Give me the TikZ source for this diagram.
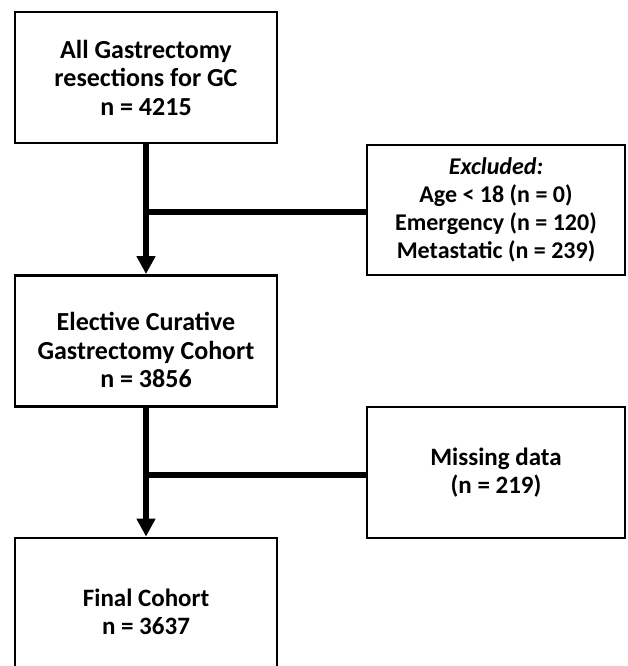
\documentclass[tikz,border=0pt]{standalone}
\usepackage{fontspec}
\setmainfont{Carlito}
\usetikzlibrary{arrows.meta}
\begin{document}
\begin{tikzpicture}[x=1pt,y=-1pt,
  box/.style={draw=black, line width=2.8pt, fill=white, align=center,
    inner sep=0pt, font=\fontsize{25}{28.5}\selectfont\bfseries},
  bigbox/.style={box, minimum width=262pt, minimum height=131pt},
  sidebox/.style={box, minimum width=258pt, minimum height=130pt},
  txt/.style={align=center, inner sep=0pt, font=\fontsize{26}{28.5}\selectfont\bfseries},
  conn/.style={line width=6pt},
  arr/.style={conn, -{Triangle[length=18pt,width=18pt]}}]
\useasboundingbox (0,0) rectangle (627,666);
\clip (0,0) rectangle (627,666);
\fill[white] (0,0) rectangle (627,666);
\node[bigbox, font=\fontsize{26}{28.5}\selectfont\bfseries] (b1) at (146,77.5) {All Gastrectomy\\resections for GC\\n = 4215};
\node[sidebox, font=\fontsize{24}{27.8}\selectfont\bfseries] (ex) at (496,210) {\textit{Excluded:}\\Age < 18 (n = 0)\\Emergency (n = 120)\\Metastatic (n = 239)};
\node[bigbox] (b2) at (146,341) {};
\node[txt] (t2) at (146,350) {Elective Curative\\Gastrectomy Cohort\\n = 3856};
\node[sidebox, minimum height=131pt] (md) at (496,472.5) {Missing data\\(n = 219)};
\node[bigbox, minimum height=148pt] (b3) at (146,612) {Final Cohort\\n = 3637};
\coordinate (j1) at (146,212);
\coordinate (j2) at (146,475);
\draw[arr] (b1.south) -- (b2.north);
\draw[conn] (j1) -- (j1 -| ex.west);
\draw[arr] (b2.south) -- (b3.north);
\draw[conn] (j2) -- (j2 -| md.west);
\end{tikzpicture}
\end{document}
